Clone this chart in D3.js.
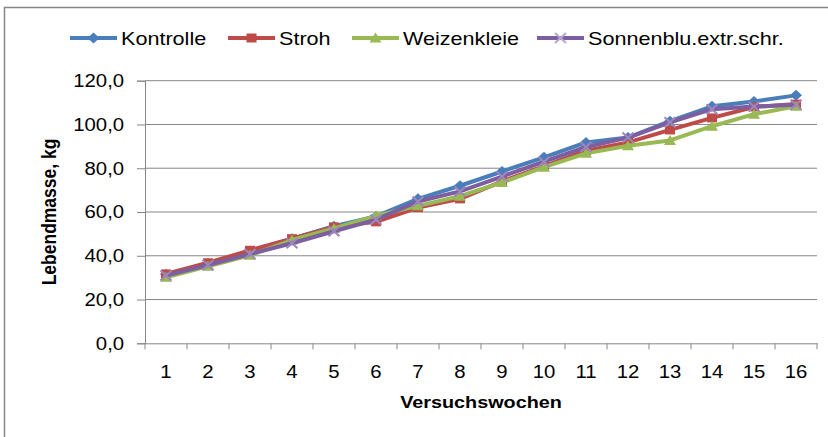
<!DOCTYPE html>
<html><head><meta charset="utf-8">
<script src="https://cdn.jsdelivr.net/npm/d3@7/dist/d3.min.js"></script>
<style>body{margin:0;background:#fff}svg{display:block}</style>
</head><body>
<svg id="c" width="828" height="437"></svg>
<script>
const weeks = ["1","2","3","4","5","6","7","8","9","10","11","12","13","14","15","16"];
const seriesNames = ["Kontrolle","Stroh","Weizenkleie","Sonnenblu.extr.schr."];
const kontrolle = [31.5,36.5,42.2,47.8,53.5,58.0,66.0,72.0,78.5,85.0,91.8,94.0,101.5,108.3,110.5,113.3];
const stroh     = [31.7,36.8,42.5,47.8,53.2,55.5,62.0,66.0,74.0,81.0,88.0,91.8,97.5,103.0,108.0,109.3];
const weizen    = [30.2,35.2,40.2,47.2,52.5,58.3,62.8,67.2,73.5,80.5,86.8,90.3,92.7,99.2,104.7,108.3];
const sonnen    = [31.0,35.8,40.8,45.7,51.2,56.5,64.8,69.4,76.2,83.0,89.7,94.0,101.0,107.0,108.2,109.0];
const yTicks = [0,20,40,60,80,100,120];

const colors = ["#4A7EBB","#BE4B48","#98B954","#7D5FA0"];
const markers = ["diamond","square","triangle","x"];
const data = [kontrolle, stroh, weizen, sonnen];

const SX = 1.13; // horizontal stretch of tick labels
const svg = d3.select("#c");
const font = "Liberation Sans, Arial, sans-serif";
svg.append("rect").attr("x",4.5).attr("y",7.5).attr("width",900).attr("height",500)
  .attr("fill","none").attr("stroke","#868686").attr("stroke-width",1.5);

const L=145, R=817, T=80.7, B=343.3;
const x = d3.scaleBand().domain(weeks).range([L,R]);
const y = d3.scaleLinear().domain([0,120]).range([B,T]);

svg.append("g").selectAll("line").data(yTicks.filter(d=>d>0)).join("line")
  .attr("x1",L).attr("x2",R).attr("y1",d=>y(d)).attr("y2",d=>y(d))
  .attr("stroke","#868686").attr("stroke-width",1);

const yAx = svg.append("g").attr("transform",`translate(${L},0)`)
  .call(d3.axisLeft(y).tickValues(yTicks).tickSize(8).tickPadding(10.5)
    .tickFormat(d=>d3.format(".1f")(d).replace(".",",")));
yAx.select(".domain").attr("stroke","#868686");
yAx.selectAll(".tick line").attr("stroke","#868686");
yAx.selectAll("text").attr("font-family",font).attr("font-size",18).attr("fill","#000")
  .attr("transform",`scale(${SX},1)`);

const xAx = svg.append("g").attr("transform",`translate(0,${B})`)
  .call(d3.axisBottom(x).tickSize(0).tickPadding(21.5));
xAx.select(".domain").attr("stroke","#868686");
xAx.selectAll("text").attr("font-family",font).attr("font-size",18).attr("fill","#000")
  .attr("transform",`scale(${SX},1)`);
const bounds = d3.range(weeks.length+1).map(i=>L + i*x.step());
xAx.selectAll(".bt").data(bounds).join("line").attr("class","bt")
  .attr("x1",d=>d).attr("x2",d=>d).attr("y1",0).attr("y2",6).attr("stroke","#868686");

svg.append("text").attr("transform",`translate(${(L+R)/2},408) scale(1.2,1)`).attr("text-anchor","middle")
  .attr("font-family",font).attr("font-weight","bold").attr("font-size",16.5).text("Versuchswochen");
svg.append("text").attr("transform",`translate(56,212) scale(1.2,1) rotate(-90)`).attr("text-anchor","middle")
  .attr("font-family",font).attr("font-weight","bold").attr("font-size",17.5).text("Lebendmasse, kg");

function drawMarker(g, type, cx, cy, col){
  if(type==="diamond"){
    g.append("path").attr("d",`M${cx},${cy-5.5}L${cx+6},${cy}L${cx},${cy+5.5}L${cx-6},${cy}Z`).attr("fill",col);
  } else if(type==="square"){
    g.append("rect").attr("x",cx-5).attr("y",cy-4.5).attr("width",10).attr("height",9).attr("fill",col);
  } else if(type==="triangle"){
    g.append("path").attr("d",`M${cx},${cy-5.5}L${cx+6},${cy+4.5}L${cx-6},${cy+4.5}Z`).attr("fill",col);
  } else {
    g.append("path").attr("d",`M${cx-5.5},${cy-5}L${cx+5.5},${cy+5}M${cx-5.5},${cy+5}L${cx+5.5},${cy-5}`)
      .attr("stroke",col).attr("stroke-width",2);
  }
}

const line = d3.line().x((d,i)=>x(weeks[i])+x.bandwidth()/2).y(d=>y(d));
data.forEach((s,k)=>{
  const g = svg.append("g");
  g.append("path").datum(s).attr("d",line).attr("fill","none")
    .attr("stroke",colors[k]).attr("stroke-width",4).attr("stroke-linejoin","round");
  s.forEach((v,i)=>drawMarker(g, markers[k], x(weeks[i])+x.bandwidth()/2, y(v), k===3?"#9E86BE":colors[k]));
});

const legX = [70,228,352,537];
const lg = svg.append("g");
seriesNames.forEach((n,k)=>{
  const lx = legX[k], ly = 38;
  lg.append("line").attr("x1",lx).attr("x2",lx+47).attr("y1",ly).attr("y2",ly)
    .attr("stroke",colors[k]).attr("stroke-width",4);
  drawMarker(lg, markers[k], lx+23.5, ly, k===3?"#B7A6D0":colors[k]);
  lg.append("text").attr("transform",`translate(${lx+51},${ly+6.5}) scale(1.2,1)`)
    .attr("font-family",font).attr("font-size",18).text(n);
});
</script>
</body></html>
